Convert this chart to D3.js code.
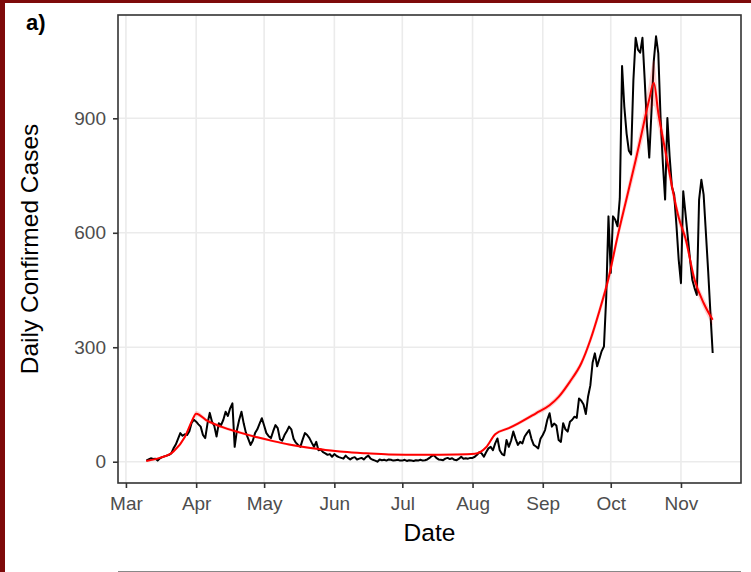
<!DOCTYPE html>
<html><head><meta charset="utf-8">
<script src="https://cdn.jsdelivr.net/npm/d3@7"></script>
<style>
body{margin:0;background:#fff;}
svg{display:block;font-family:"Liberation Sans",Arial,sans-serif;}
</style>
</head><body>
<svg id="c" width="751" height="572"></svg>
<script>
// ---------------- data ----------------
const startDate = "2020-03-10";
const casesMar = [3,6,9,7,8,3,9,12,14,16,18,22,35,45,60,75,68,72,70,80,102,110];
const casesApr = [105,98,92,70,62,100,128,105,94,66,101,96,110,131,120,140,153,39,83,110,131,100,75,60,44,55,75,85,100,114];
const casesMay = [95,75,67,62,80,96,88,59,55,70,80,92,85,60,50,44,39,58,75,70,62,50,39,52,30,32,25,22,18,20,13];
const casesJun = [20,15,12,10,8,16,10,6,10,12,6,8,10,6,12,16,8,5,3,0,6,4,5,3,6,5,3,4,5,3];
const casesJul = [3,5,2,4,3,2,4,3,5,3,4,6,10,15,17,10,6,5,4,8,10,7,9,5,4,8,13,8,9,8,10];
const casesAug = [10,13,18,25,22,13,25,35,39,30,48,61,30,20,17,57,39,55,79,60,44,52,48,66,75,83,60,44,40,35,60];
const casesSep = [70,83,110,127,92,100,95,57,52,101,85,79,105,110,118,115,166,160,150,125,171,200,260,284,250,270,290,302,430,643];
const casesOct = [495,643,634,617,690,1037,930,860,815,805,1000,1111,1080,1072,1111,1000,880,797,920,1050,1115,1070,900,783,687,901,800,720,700,620,529];
const casesNov = [468,709,650,590,530,477,455,437,687,739,700,600,500,390,285];

// fitted trend (red) with half-width of its confidence band
const fitDates = ["2020-03-10","2020-03-16","2020-03-22","2020-03-27","2020-03-30","2020-04-01","2020-04-06","2020-04-12","2020-04-20","2020-04-28","2020-05-05","2020-05-12","2020-05-20","2020-05-28","2020-06-05","2020-06-15","2020-06-25","2020-07-10","2020-07-25","2020-08-02","2020-08-07","2020-08-11","2020-08-17","2020-08-21","2020-08-29","2020-09-04","2020-09-08","2020-09-13","2020-09-18","2020-09-22","2020-09-26","2020-09-30","2020-10-04","2020-10-08","2020-10-12","2020-10-15","2020-10-18","2020-10-20","2020-10-22","2020-10-25","2020-10-31","2020-11-03","2020-11-07","2020-11-11","2020-11-15"];
const fitValues = [2,10,27,65,105,126,107,92,77,64,54,45,37,31,26,22,19,18,19,21,38,72,88,100,127,148,170,210,258,319,395,480,590,690,790,870,950,993,914,818,640,585,477,416,372];
const fitBand = [3,3,4,5,6,7,5,4,4,3,3,3,3,3,2,2,2,2,2,2,3,4,4,5,6,7,8,9,10,12,14,16,18,20,25,30,45,60,40,25,18,15,15,15,15];

const yTicks = [0,300,600,900];
const xTickDates = ["2020-03-01","2020-04-01","2020-05-01","2020-06-01","2020-07-01","2020-08-01","2020-09-01","2020-10-01","2020-11-01"];

// ---------------- build ----------------
const parse = d3.timeParse("%Y-%m-%d");
const start = parse(startDate);
const allCases = [].concat(casesMar,casesApr,casesMay,casesJun,casesJul,casesAug,casesSep,casesOct,casesNov);
const daily = allCases.map((v,i)=>({date:d3.timeDay.offset(start,i), v}));
const fit = fitDates.map((d,i)=>({date:parse(d), v:fitValues[i], lo:fitValues[i]-fitBand[i], hi:fitValues[i]+fitBand[i]}));

const P = {l:118, r:741, t:15, b:483};
const svg = d3.select("#c");

// background frame (red border of the original figure)
svg.append("rect").attr("x",0).attr("y",0).attr("width",751).attr("height",572).attr("fill","#fff");
svg.append("rect").attr("x",0).attr("y",0).attr("width",5).attr("height",572).attr("fill","#7e0a0a");
svg.append("rect").attr("x",0).attr("y",0).attr("width",751).attr("height",3).attr("fill","#7e0a0a");

const xExt = d3.extent(daily, d=>d.date);
const xSpan = xExt[1]-xExt[0];
const x = d3.scaleTime().domain([new Date(+xExt[0]-0.05*xSpan), new Date(+xExt[1]+0.05*xSpan)]).range([P.l,P.r]);
const yMin = d3.min(daily,d=>d.v), yMax = d3.max(daily,d=>d.v);
const ySpan = yMax-yMin;
const y = d3.scaleLinear().domain([yMin-0.05*ySpan, yMax+0.05*ySpan]).range([P.b,P.t]);

const xTicks = xTickDates.map(parse);

// grid
const grid = svg.append("g");
grid.selectAll("line.gx").data(xTicks).join("line")
  .attr("x1",d=>x(d)).attr("x2",d=>x(d)).attr("y1",P.t).attr("y2",P.b)
  .attr("stroke","#EBEBEB").attr("stroke-width",1.6);
grid.selectAll("line.gy").data(yTicks).join("line")
  .attr("x1",P.l).attr("x2",P.r).attr("y1",d=>y(d)).attr("y2",d=>y(d))
  .attr("stroke","#EBEBEB").attr("stroke-width",1.6);

// data
svg.append("path").datum(daily)
  .attr("d", d3.line().x(d=>x(d.date)).y(d=>y(d.v)))
  .attr("fill","none").attr("stroke","#000").attr("stroke-width",2).attr("stroke-linejoin","round");
svg.append("path").datum(fit)
  .attr("d", d3.area().curve(d3.curveMonotoneX).x(d=>x(d.date)).y0(d=>y(d.lo)).y1(d=>y(d.hi)))
  .attr("fill","#ff0000").attr("fill-opacity",0.18);
svg.append("path").datum(fit)
  .attr("d", d3.line().curve(d3.curveMonotoneX).x(d=>x(d.date)).y(d=>y(d.v)))
  .attr("fill","none").attr("stroke","#ff0000").attr("stroke-width",2);

// panel border
svg.append("rect").attr("x",P.l).attr("y",P.t).attr("width",P.r-P.l).attr("height",P.b-P.t)
  .attr("fill","none").attr("stroke","#333").attr("stroke-width",1.6);

// axes
const xa = svg.append("g").attr("transform",`translate(0,${P.b})`)
  .call(d3.axisBottom(x).tickValues(xTicks).tickFormat(d3.timeFormat("%b")).tickSize(5).tickPadding(9));
const ya = svg.append("g").attr("transform",`translate(${P.l},0)`)
  .call(d3.axisLeft(y).tickValues(yTicks).tickSize(5).tickPadding(7));
[xa,ya].forEach(a=>{
  a.select(".domain").remove();
  a.selectAll(".tick line").attr("stroke","#333").attr("stroke-width",1.6);
  a.selectAll(".tick text").attr("fill","#4D4D4D").style("font-size","19px").style("font-family","Liberation Sans, Arial, sans-serif");
});

// titles
svg.append("text").attr("x",(P.l+P.r)/2).attr("y",541).attr("text-anchor","middle")
  .style("font-size","24.5px").attr("fill","#000").text("Date");
svg.append("text").attr("transform",`translate(38,${(P.t+P.b)/2}) rotate(-90)`).attr("text-anchor","middle")
  .style("font-size","24.5px").attr("fill","#000").text("Daily Confirmed Cases");
svg.append("text").attr("x",26).attr("y",30).style("font-size","22px").style("font-weight","bold").attr("fill","#000").text("a)");

// top edge of the next panel
svg.append("line").attr("x1",P.l).attr("x2",P.r).attr("y1",571.5).attr("y2",571.5).attr("stroke","#888").attr("stroke-width",1);
</script>
</body></html>
